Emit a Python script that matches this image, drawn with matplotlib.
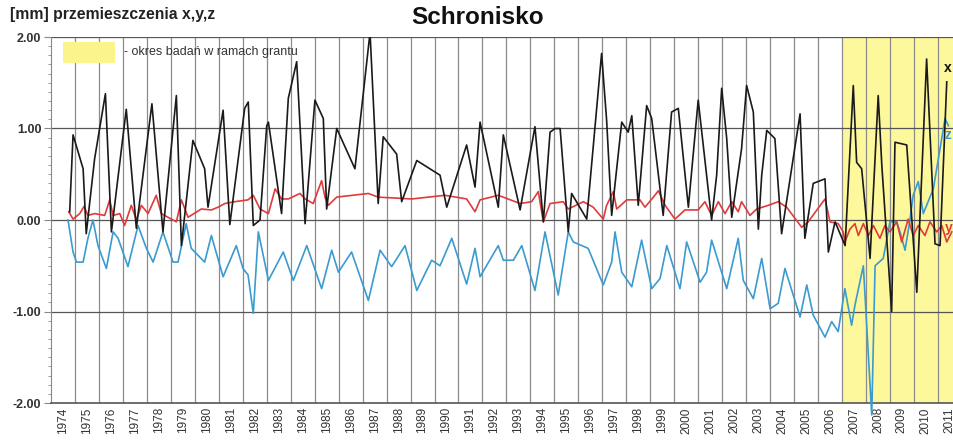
import matplotlib
matplotlib.use("Agg")
import matplotlib.pyplot as plt
from matplotlib.patches import Rectangle
from matplotlib.ticker import MultipleLocator
import numpy as np

plt.rcParams['font.family'] = ['Liberation Sans', 'DejaVu Sans']

years = list(range(1974, 2012))
grant_start = 2007.0

# x displacement (black)
x_t = [1974.78, 1974.92, 1975.34, 1975.47, 1975.82, 1976.27, 1976.52, 1977.14, 1977.56, 1978.21,
       1978.67, 1979.23, 1979.44, 1979.92, 1980.41, 1980.55, 1981.18, 1981.46, 1982.08, 1982.23,
       1982.44, 1982.72, 1983.00, 1983.07, 1983.62, 1983.90, 1984.25, 1984.60, 1985.01, 1985.36,
       1985.50, 1985.92, 1986.68, 1987.31, 1987.65, 1987.86, 1988.42, 1988.63, 1989.26, 1990.23,
       1990.51, 1991.34, 1991.69, 1991.90, 1992.66, 1992.87, 1993.57, 1994.19, 1994.54, 1994.82,
       1995.03, 1995.24, 1995.58, 1995.72, 1996.35, 1996.97, 1997.18, 1997.39, 1997.81, 1998.08,
       1998.23, 1998.50, 1998.85, 1999.06, 1999.54, 1999.89, 2000.17, 2000.59, 2001.00, 2001.56,
       2001.77, 2001.98, 2002.19, 2002.40, 2002.81, 2003.02, 2003.30, 2003.51, 2003.65, 2003.86,
       2004.20, 2004.48, 2005.25, 2005.45, 2005.80, 2006.29, 2006.43, 2006.71, 2007.13, 2007.47,
       2007.61, 2007.82, 2008.17, 2008.51, 2008.66, 2009.07, 2009.21, 2009.70, 2010.12, 2010.53,
       2010.88, 2011.09, 2011.37]
x_v = [0.09, 0.93, 0.56, -0.15, 0.67, 1.38, -0.13, 1.21, -0.09, 1.27,
       -0.13, 1.36, -0.28, 0.87, 0.56, 0.14, 1.20, -0.05, 1.22, 1.29,
       -0.06, 0.00, 1.03, 1.07, 0.07, 1.33, 1.73, -0.04, 1.31, 1.11,
       0.12, 1.00, 0.56, 2.05, 0.18, 0.91, 0.72, 0.20, 0.65, 0.49,
       0.14, 0.82, 0.36, 1.07, 0.14, 0.93, 0.11, 1.02, -0.02, 0.96,
       1.00, 1.00, -0.13, 0.29, 0.01, 1.82, 1.09, 0.05, 1.07, 0.96,
       1.14, 0.16, 1.25, 1.11, 0.05, 1.18, 1.22, 0.14, 1.31, 0.00,
       0.49, 1.44, 0.89, 0.03, 0.78, 1.47, 1.18, -0.10, 0.49, 0.98,
       0.89, -0.15, 1.16, -0.20, 0.40, 0.45, -0.35, -0.02, -0.28, 1.47,
       0.63, 0.56, -0.42, 1.36, 0.60, -1.00, 0.85, 0.82, -0.79, 1.76,
       -0.26, -0.28, 1.51]

# y displacement (red)
y_t = [1974.74, 1974.92, 1975.20, 1975.38, 1975.54, 1975.82, 1976.24, 1976.45, 1976.59, 1976.87,
       1977.07, 1977.35, 1977.56, 1977.77, 1978.05, 1978.39, 1978.60, 1978.88, 1979.23, 1979.44,
       1979.72, 1980.27, 1980.69, 1980.97, 1981.25, 1981.66, 1982.22, 1982.44, 1982.72, 1983.07,
       1983.35, 1983.62, 1983.90, 1984.39, 1984.60, 1984.94, 1985.29, 1985.43, 1985.57, 1985.92,
       1987.24, 1987.65, 1989.05, 1990.44, 1991.34, 1991.69, 1991.90, 1992.66, 1993.57, 1994.05,
       1994.33, 1994.54, 1994.82, 1995.37, 1995.58, 1996.21, 1996.62, 1997.04, 1997.18, 1997.46,
       1997.60, 1998.02, 1998.57, 1998.78, 1999.13, 1999.34, 1999.62, 2000.03, 2000.45, 2001.00,
       2001.28, 2001.56, 2001.84, 2002.12, 2002.40, 2002.67, 2002.81, 2003.16, 2003.44, 2003.92,
       2004.34, 2004.69, 2005.32, 2005.59, 2006.29, 2006.50, 2006.84, 2007.05, 2007.12, 2007.33,
       2007.54, 2007.68, 2007.89, 2008.10, 2008.31, 2008.58, 2008.79, 2009.00, 2009.28, 2009.49,
       2009.76, 2009.97, 2010.18, 2010.46, 2010.67, 2010.95, 2011.16, 2011.37, 2011.58]
y_v = [0.09, 0.01, 0.07, 0.15, 0.05, 0.07, 0.05, 0.22, 0.05, 0.07,
       -0.06, 0.16, 0.00, 0.16, 0.07, 0.27, 0.07, 0.03, -0.02, 0.22,
       0.03, 0.12, 0.11, 0.14, 0.18, 0.20, 0.22, 0.27, 0.12, 0.07,
       0.34, 0.23, 0.23, 0.29, 0.23, 0.18, 0.43, 0.25, 0.16, 0.25,
       0.29, 0.25, 0.23, 0.27, 0.23, 0.09, 0.22, 0.27, 0.18, 0.20,
       0.31, -0.02, 0.18, 0.20, 0.12, 0.20, 0.14, 0.01, 0.16, 0.31,
       0.12, 0.22, 0.22, 0.14, 0.25, 0.32, 0.16, 0.01, 0.11, 0.11,
       0.20, 0.05, 0.20, 0.07, 0.20, 0.09, 0.20, 0.05, 0.12, 0.16,
       0.20, 0.14, -0.08, -0.02, 0.23, -0.02, -0.04, -0.13, -0.24, -0.10,
       -0.04, -0.17, -0.04, -0.17, -0.06, -0.20, -0.06, -0.13, -0.02, -0.24,
       0.01, -0.17, -0.06, -0.17, -0.02, -0.13, -0.06, -0.24, -0.13]

# z displacement (blue)
z_t = [1974.71, 1974.92, 1975.06, 1975.34, 1975.54, 1975.75, 1975.96, 1976.31, 1976.59, 1976.80,
       1977.21, 1977.63, 1977.98, 1978.26, 1978.67, 1979.09, 1979.30, 1979.64, 1979.85, 1980.41,
       1980.69, 1981.18, 1981.73, 1982.01, 1982.22, 1982.44, 1982.65, 1983.07, 1983.69, 1984.11,
       1984.67, 1985.29, 1985.71, 1985.99, 1986.54, 1987.24, 1987.73, 1988.21, 1988.77, 1989.26,
       1989.88, 1990.23, 1990.72, 1991.34, 1991.69, 1991.90, 1992.66, 1992.87, 1993.29, 1993.64,
       1994.19, 1994.61, 1995.16, 1995.58, 1995.79, 1996.41, 1997.04, 1997.39, 1997.53, 1997.81,
       1998.23, 1998.64, 1999.06, 1999.41, 1999.69, 2000.24, 2000.52, 2001.08, 2001.35, 2001.56,
       2002.19, 2002.54, 2002.67, 2002.88, 2003.30, 2003.65, 2004.00, 2004.34, 2004.62, 2005.25,
       2005.53, 2005.80, 2006.29, 2006.57, 2006.84, 2007.12, 2007.40, 2007.54, 2007.89, 2008.24,
       2008.38, 2008.72, 2009.00, 2009.28, 2009.42, 2009.63, 2009.84, 2009.97, 2010.18, 2010.39,
       2010.81, 2011.09, 2011.30, 2011.44]
z_v = [0.00, -0.35, -0.46, -0.46, -0.20, 0.00, -0.28, -0.53, -0.13, -0.20,
       -0.51, -0.06, -0.31, -0.46, -0.13, -0.46, -0.46, -0.04, -0.31, -0.46,
       -0.17, -0.62, -0.28, -0.53, -0.60, -1.02, -0.13, -0.66, -0.35, -0.66,
       -0.28, -0.75, -0.33, -0.57, -0.35, -0.88, -0.33, -0.51, -0.28, -0.77,
       -0.44, -0.50, -0.20, -0.70, -0.31, -0.62, -0.28, -0.44, -0.44, -0.28,
       -0.77, -0.13, -0.82, -0.13, -0.24, -0.31, -0.71, -0.46, -0.13, -0.57,
       -0.73, -0.22, -0.75, -0.64, -0.28, -0.75, -0.24, -0.68, -0.57, -0.22,
       -0.75, -0.35, -0.20, -0.66, -0.86, -0.42, -0.97, -0.91, -0.53, -1.06,
       -0.71, -1.04, -1.28, -1.11, -1.22, -0.75, -1.15, -0.93, -0.50, -2.13,
       -0.50, -0.42, -0.02, -0.02, -0.13, -0.33, 0.01, 0.27, 0.42, 0.07,
       0.34, 0.78, 1.11, 1.03]

fig = plt.figure(figsize=(9.54, 4.48), dpi=100)
ax = fig.add_axes([51 / 954, 45 / 448, 903 / 954, 366 / 448])

x_end = 1974 + 903 / 23.97
ax.set_xlim(1974, x_end)
ax.set_ylim(-2, 2)

# grant period shading
ax.axvspan(grant_start, x_end, color='#fdf89c', zorder=0, lw=0)

# grid
for yr in years[1:]:
    ax.axvline(yr, color='#8c8c8c', lw=0.9, zorder=1)
for yv in [-1, 0, 1, 2]:
    ax.axhline(yv, color='#555555', lw=0.9, zorder=1)

ax.plot(z_t, z_v, color='#3a9bd0', lw=1.2, zorder=3, clip_on=False)
ax.plot(y_t, y_v, color='#e03a3a', lw=1.2, zorder=4)
ax.plot(x_t, x_v, color='#1a1a1a', lw=1.2, zorder=5)

# axes styling
for s in ['top', 'right']:
    ax.spines[s].set_visible(False)
ax.spines['left'].set_color('#888888')
ax.spines['bottom'].set_color('#555555')
ax.spines['bottom'].set_linewidth(1.2)

ax.set_yticks([-2, -1, 0, 1, 2])
ax.set_yticklabels(['-2.00', '-1.00', '0.00', '1.00', '2.00'])
ax.yaxis.set_minor_locator(MultipleLocator(0.1))
ax.tick_params(axis='y', which='major', length=5, color='#888888', labelsize=9,
               labelcolor='#333333', pad=2)
ax.tick_params(axis='y', which='minor', length=2.5, color='#888888')
for lab in ax.get_yticklabels():
    lab.set_fontweight('bold')

ax.set_xticks([])
ax.set_xticks([y + 0.5 for y in years], minor=True)
ax.set_xticklabels([str(y) for y in years], minor=True, rotation=90, fontsize=8.5,
                   color='#333333')
ax.tick_params(axis='x', which='minor', length=0, pad=3)

# legend box
ax.add_patch(Rectangle((12 / 903, 340 / 366), 52 / 903, 21 / 366, transform=ax.transAxes,
                       facecolor='#fbf48c', edgecolor='none', zorder=6))
ax.text(73 / 903, 351 / 366, '- okres badań w ramach grantu', transform=ax.transAxes,
        fontsize=9, color='#333333', va='center', ha='left', zorder=6)

fig.text(478 / 954, 1 - 18 / 448, 'Schronisko', ha='center', va='center',
         fontsize=17.5, fontweight='bold', color='#111111')
fig.text(10 / 954, 1 - 15 / 448, '[mm] przemieszczenia x,y,z', ha='left', va='center',
         fontsize=11.3, fontweight='bold', color='#222222')

fig.text(944 / 954, 1 - 68 / 448, 'x', ha='left', va='center', fontsize=10,
         fontweight='bold', color='#111111')
fig.text(945 / 954, 1 - 135 / 448, 'z', ha='left', va='center', fontsize=10,
         fontweight='bold', color='#3a9bd0')
fig.text(945 / 954, 1 - 228 / 448, 'y', ha='left', va='center', fontsize=10,
         fontweight='bold', color='#e03a3a')

fig.savefig('out.png', dpi=100)
